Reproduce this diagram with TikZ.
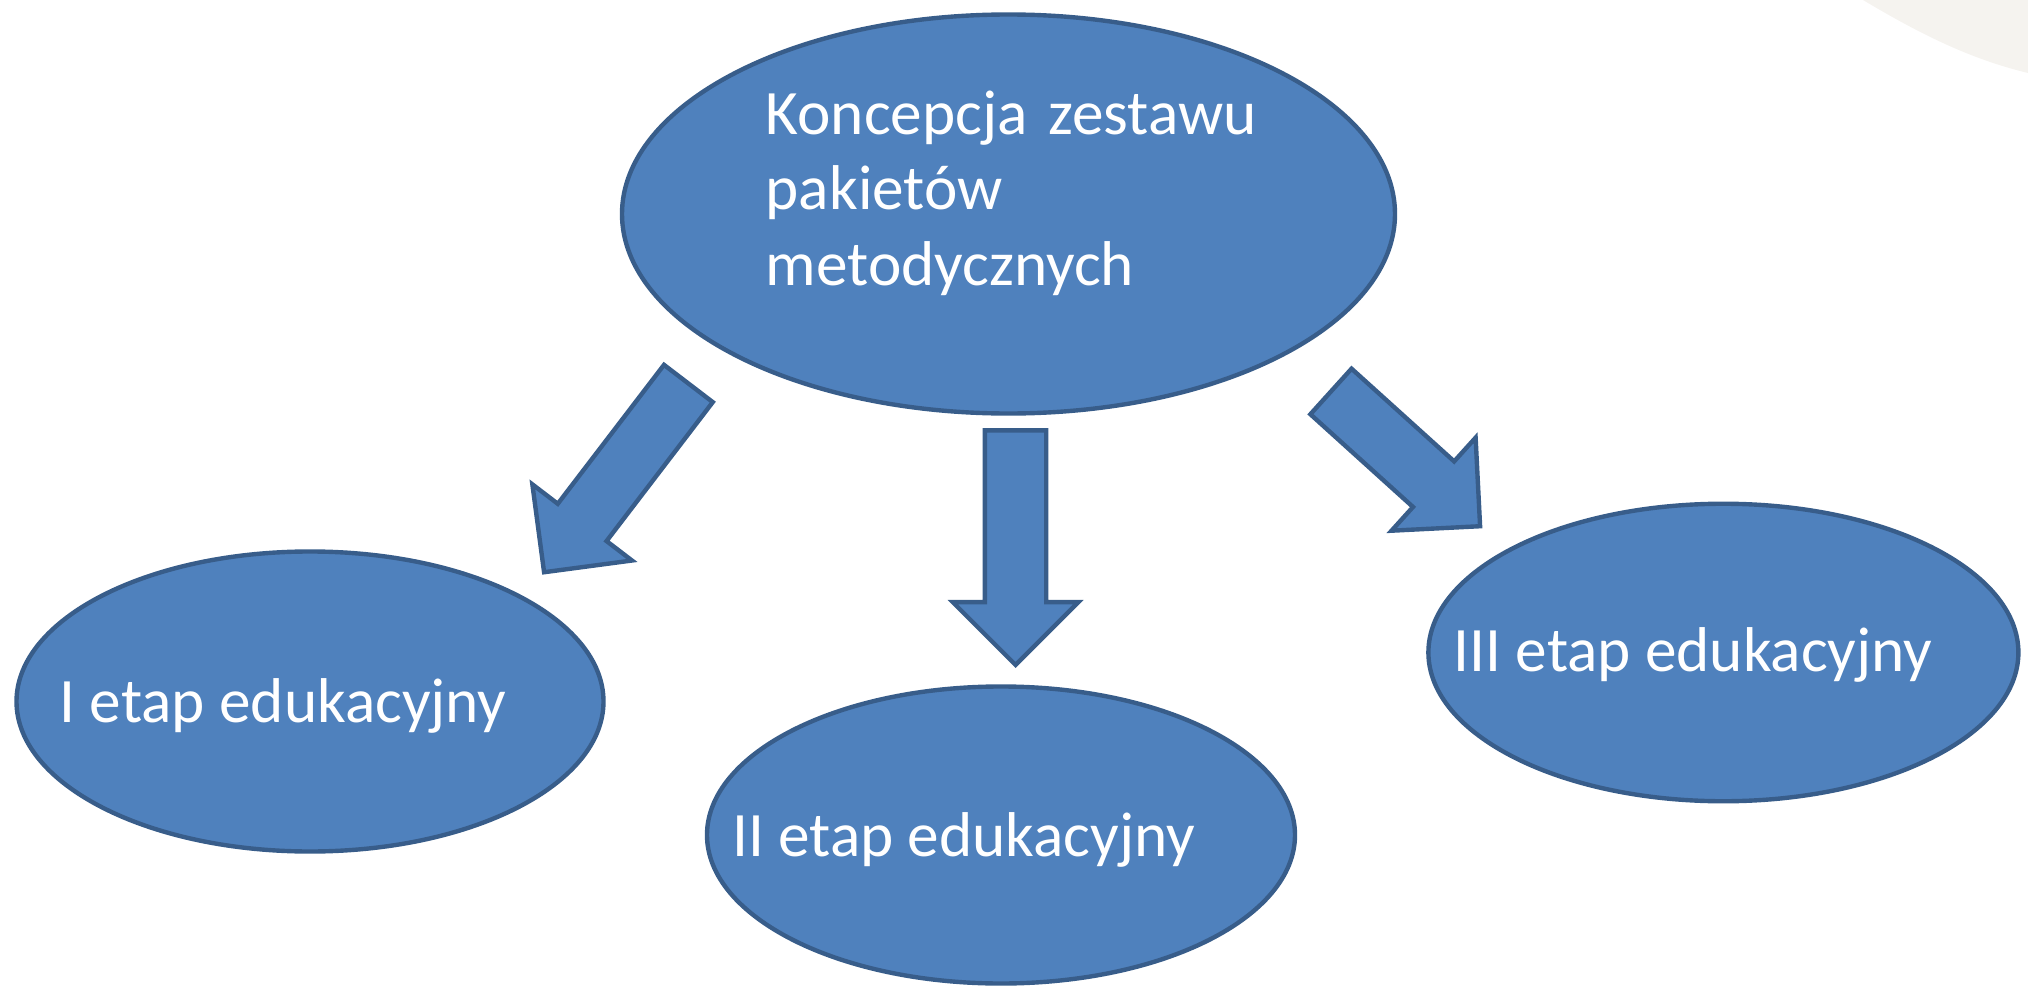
\documentclass[tikz,border=0pt]{standalone}
\usepackage{fontspec}
\setmainfont{Carlito}
\usetikzlibrary{shapes, shapes.arrows, positioning}
\definecolor{niebieski}{HTML}{4F81BD}
\definecolor{brzeg}{HTML}{385D8A}
\definecolor{cien}{HTML}{F5F3EF}
\tikzset{
  owal/.style={ellipse, draw=brzeg, fill=niebieski, line width=1.25pt, inner sep=0pt},
  blok/.style={single arrow, draw=brzeg, fill=niebieski, line width=1.25pt, inner xsep=0pt, inner ysep=0.285cm,
    single arrow head extend=0.32cm, single arrow tip angle=90, minimum height=#1, anchor=tip},
  napis/.style={text=white, inner sep=0pt, font=\fontsize{18pt}{21.5pt}\selectfont, anchor=base west}
}
\begin{document}
\begin{tikzpicture}
        \useasboundingbox (0,0) rectangle (20.28,9.89);
        \fill[cien] (18.63,9.89) .. controls (19.2,9.55) and (19.7,9.3) .. (20.28,9.16) -- (20.28,9.89) -- cycle;
%
        \node[owal, minimum width=7.73cm, minimum height=3.99cm] (K) at (10.085,7.75) {};
        \node[owal, minimum width=5.87cm, minimum height=3cm] (E1) at (3.10,2.875) {};
        \node[owal, minimum width=5.88cm, minimum height=2.97cm] (E2) at (10.01,1.54) {};
        \node[owal, minimum width=5.9cm, minimum height=2.975cm] (E3) at (17.234,3.365) {};
%
        \node[napis, text width=6cm, align=left] (KT) at (7.65,8.55) {Koncepcja zestawu\\pakietów\\metodycznych};
        \node[napis] (E1T) at (0.59,2.663) {I etap edukacyjny};
        \node[napis] (E2T) at (7.317,1.323) {II etap edukacyjny};
        \node[napis] (E3T) at (14.53,3.173) {III etap edukacyjny};
%
        \node[blok=2.376cm, rotate=232.6] (S1) at (5.422,4.143) {};
        \node[blok=2.345cm, rotate=-90] (S2) at (10.155,3.21) {};
        \node[blok=2.01cm, rotate=-42.1] (S3) at (14.824,4.607) {};
\end{tikzpicture}
\end{document}
